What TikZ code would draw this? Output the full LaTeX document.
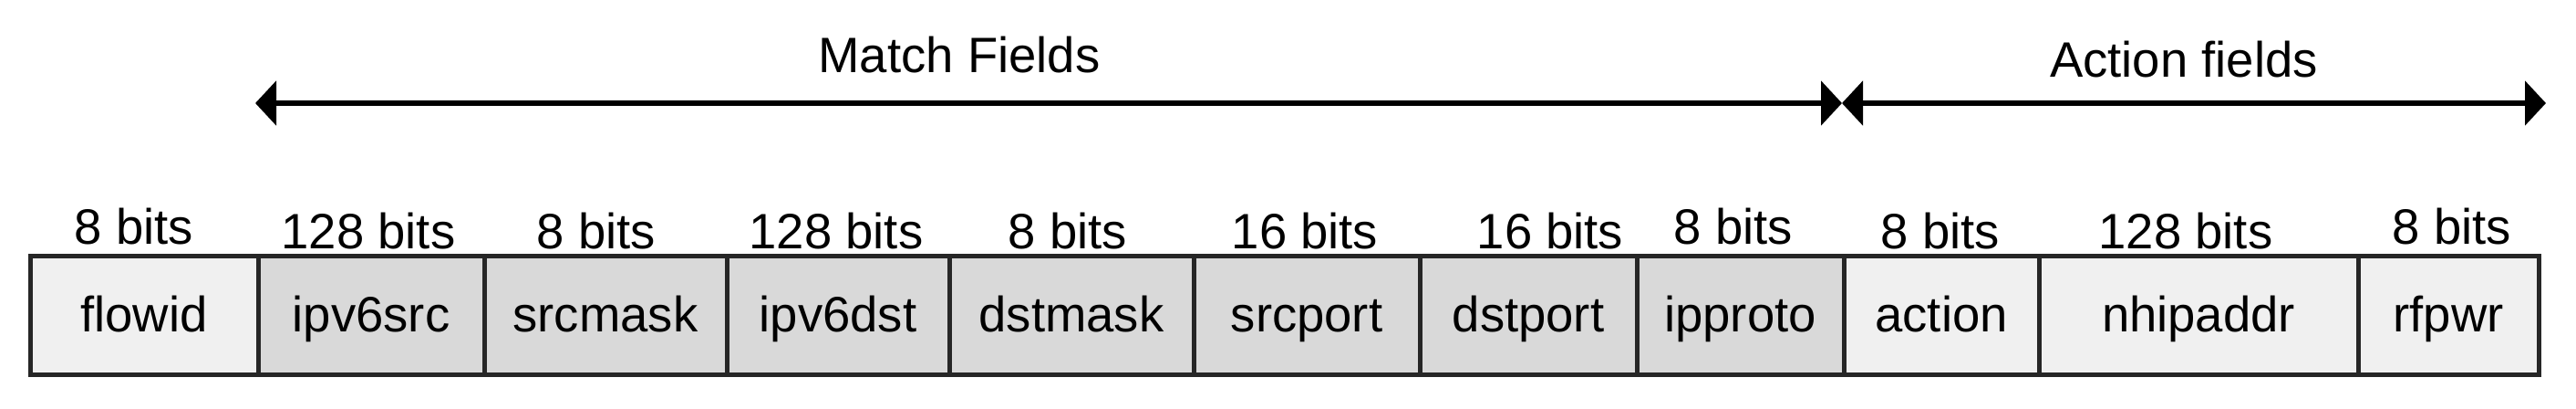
\documentclass[tikz,border=0pt]{standalone}
\usepackage{fontspec}
\setmainfont{Liberation Sans}
\usetikzlibrary{arrows.meta}
\definecolor{lightfill}{HTML}{F0F0F0}
\definecolor{matchfill}{HTML}{D9D9D9}
\definecolor{bordergray}{HTML}{262626}
\begin{document}
\begin{tikzpicture}[
  x=1cm,y=1cm,
  field/.style={draw=bordergray, line width=0.05cm, minimum height=1.30cm,
    inner sep=0pt, outer sep=0pt, font=\fontsize{15.5}{18}\selectfont,
    text height=10.5pt, text depth=0.5pt},
  lightcell/.style={field, fill=lightfill},
  matchcell/.style={field, fill=matchfill},
  bitslabel/.style={anchor=base, font=\fontsize{15.5}{18}\selectfont, inner sep=0pt},
  grouptitle/.style={font=\fontsize{15.5}{18}\selectfont, inner sep=0pt},
  span/.style={line width=0.06cm,
    {Triangle[length=0.23cm,width=0.48cm]}-{Triangle[length=0.23cm,width=0.48cm]}},
]
\useasboundingbox (0,0) rectangle (28.25,4.47);

% cells
\node[lightcell, minimum width=2.50cm] (flowid)   at (1.58,1.015)   {flowid};
\node[matchcell, minimum width=2.48cm] (ipv6src)  at (4.07,1.015)   {ipv6src};
\node[matchcell, minimum width=2.66cm] (srcmask)  at (6.64,1.015)   {srcmask};
\node[matchcell, minimum width=2.44cm] (ipv6dst)  at (9.19,1.015)   {ipv6dst};
\node[matchcell, minimum width=2.68cm] (dstmask)  at (11.75,1.015)  {dstmask};
\node[matchcell, minimum width=2.48cm] (srcport)  at (14.33,1.015)  {srcport};
\node[matchcell, minimum width=2.38cm] (dstport)  at (16.76,1.015)  {dstport};
\node[matchcell, minimum width=2.27cm] (ipproto)  at (19.085,1.015) {ipproto};
\node[lightcell, minimum width=2.14cm] (action)   at (21.29,1.015)  {action};
\node[lightcell, minimum width=3.50cm] (nhipaddr) at (24.11,1.015)  {nhipaddr};
\node[lightcell, minimum width=1.98cm] (rfpwr)    at (26.85,1.015)  {rfpwr};

% bit-width labels
\node[bitslabel] (bflowid)   at (1.47,1.80)  {8 bits};
\node[bitslabel] (bipv6src)  at (4.04,1.75)  {128 bits};
\node[bitslabel] (bsrcmask)  at (6.54,1.75)  {8 bits};
\node[bitslabel] (bipv6dst)  at (9.17,1.75)  {128 bits};
\node[bitslabel] (bdstmask)  at (11.71,1.75) {8 bits};
\node[bitslabel] (bsrcport)  at (14.31,1.75) {16 bits};
\node[bitslabel] (bdstport)  at (17.00,1.75) {16 bits};
\node[bitslabel] (bipproto)  at (19.01,1.80) {8 bits};
\node[bitslabel] (baction)   at (21.28,1.75) {8 bits};
\node[bitslabel] (bnhipaddr) at (23.97,1.75) {128 bits};
\node[bitslabel] (brfpwr)    at (26.89,1.80) {8 bits};

% group spans
\coordinate (mstart) at (2.80,3.34);
\coordinate (mid)    at (20.20,3.34);
\coordinate (aend)   at (27.92,3.34);
\draw[span] (mstart) -- (mid);
\draw[span] (mid) -- (aend);

\node[grouptitle] (matchtitle)  at (10.52,3.87) {Match Fields};
\node[grouptitle] (actiontitle) at (23.95,3.82) {Action fields};
\end{tikzpicture}
\end{document}
